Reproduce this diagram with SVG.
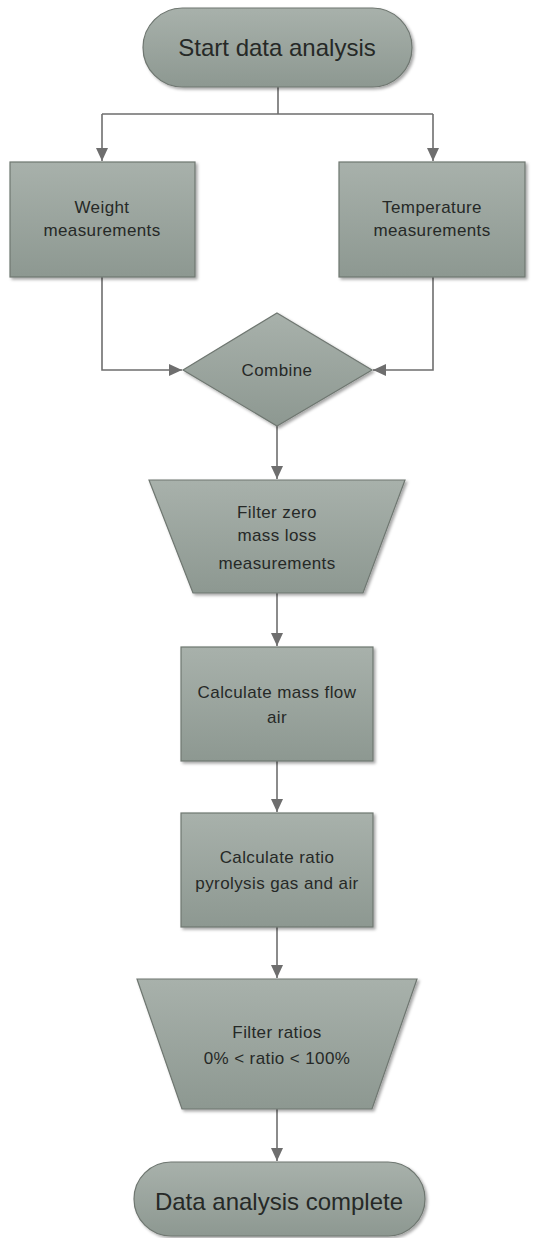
<svg xmlns="http://www.w3.org/2000/svg" width="542" height="1238" viewBox="0 0 542 1238">
<style>
.shape{fill:url(#g);stroke:#6f7771;stroke-width:1.2;filter:url(#sh)}
.t{font-family:"Liberation Sans",Arial,sans-serif;font-size:17px;fill:#262927;text-anchor:middle;letter-spacing:0.4px}
.tl{font-family:"Liberation Sans",Arial,sans-serif;font-size:24px;fill:#262927;text-anchor:middle}
.c{fill:none;stroke:#6e6e6e;stroke-width:1.6}
</style>
<defs>
<linearGradient id="g" x1="0" y1="0" x2="0" y2="1">
<stop offset="0" stop-color="#a8b1ab"/>
<stop offset="1" stop-color="#8d9891"/>
</linearGradient>
<filter id="sh" x="-10%" y="-10%" width="130%" height="130%">
<feDropShadow dx="2" dy="2" stdDeviation="1.5" flood-color="#000" flood-opacity="0.35"/>
</filter>
<marker id="ah" viewBox="0 0 10 10" refX="10" refY="5" markerWidth="13" markerHeight="12" orient="auto" markerUnits="userSpaceOnUse" preserveAspectRatio="none">
<path d="M0,0 L10,5 L0,10 Z" fill="#6e6e6e"/>
</marker>
</defs>
<rect width="542" height="1238" fill="#fff"/>
<g id="connectors">
<path class="c" d="M278,87 V114 M102,114 H433"/>
<path class="c" d="M102,114 V161" marker-end="url(#ah)"/>
<path class="c" d="M433,114 V161" marker-end="url(#ah)"/>
<path class="c" d="M102,277 V370 H182" marker-end="url(#ah)"/>
<path class="c" d="M433,277 V370 H373" marker-end="url(#ah)"/>
<path class="c" d="M277,426 V479" marker-end="url(#ah)"/>
<path class="c" d="M277,593 V646" marker-end="url(#ah)"/>
<path class="c" d="M277,761 V812" marker-end="url(#ah)"/>
<path class="c" d="M277,927 V978" marker-end="url(#ah)"/>
<path class="c" d="M277,1109 V1161" marker-end="url(#ah)"/>
</g>
<g id="start">
<rect class="shape" x="143" y="8" width="269" height="79" rx="39.5"/>
<text class="tl" x="277" y="56">Start data analysis</text>
</g>
<g id="weight">
<rect class="shape" x="10" y="162" width="185" height="115"/>
<text class="t" x="102" y="213">Weight</text>
<text class="t" x="102" y="236">measurements</text>
</g>
<g id="temperature">
<rect class="shape" x="339" y="162" width="186" height="115"/>
<text class="t" x="432" y="213">Temperature</text>
<text class="t" x="432" y="236">measurements</text>
</g>
<g id="combine">
<polygon class="shape" points="277,313 372,370 277,426 183,370"/>
<text class="t" x="277" y="376">Combine</text>
</g>
<g id="filter-zero">
<polygon class="shape" points="149,480 405,480 363,593 193,593"/>
<text class="t" x="277" y="518">Filter zero</text>
<text class="t" x="277" y="541">mass loss</text>
<text class="t" x="277" y="569">measurements</text>
</g>
<g id="mass-flow">
<rect class="shape" x="181" y="647" width="192" height="114"/>
<text class="t" x="277" y="698">Calculate mass flow</text>
<text class="t" x="277" y="723">air</text>
</g>
<g id="ratio">
<rect class="shape" x="181" y="813" width="192" height="114"/>
<text class="t" x="277" y="863">Calculate ratio</text>
<text class="t" x="277" y="889">pyrolysis gas and air</text>
</g>
<g id="filter-ratios">
<polygon class="shape" points="137,979 417,979 372,1109 182,1109"/>
<text class="t" x="277" y="1038">Filter ratios</text>
<text class="t" x="277" y="1064">0% &lt; ratio &lt; 100%</text>
</g>
<g id="end">
<rect class="shape" x="134" y="1162" width="291" height="74" rx="37"/>
<text class="tl" x="279" y="1210">Data analysis complete</text>
</g>
</svg>
